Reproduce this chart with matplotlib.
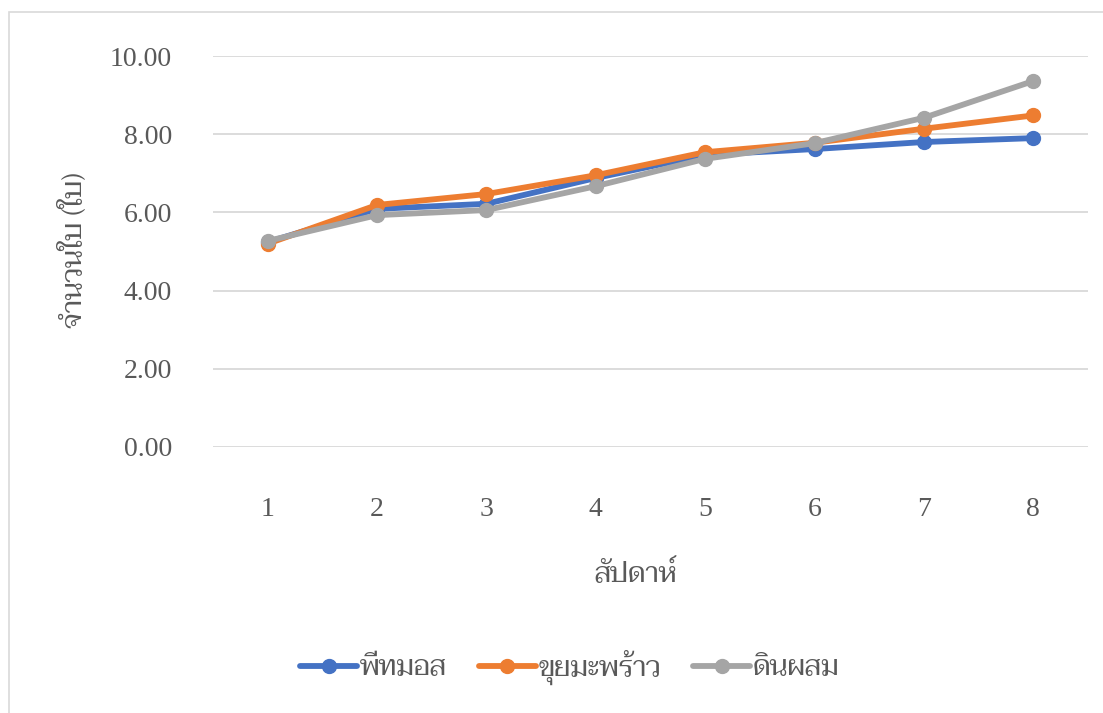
import matplotlib
matplotlib.use('Agg')
import matplotlib.pyplot as plt
from matplotlib import font_manager
from matplotlib.patches import Rectangle

weeks = [1, 2, 3, 4, 5, 6, 7, 8]
peat_moss = [5.24, 6.09, 6.22, 6.88, 7.47, 7.62, 7.80, 7.90]
coco_peat = [5.20, 6.19, 6.47, 6.95, 7.54, 7.78, 8.14, 8.48]
soil_mix = [5.27, 5.93, 6.06, 6.67, 7.37, 7.77, 8.42, 9.36]
series_names = ['พีทมอส', 'ขุยมะพร้าว', 'ดินผสม']
y_ticks = [0, 2, 4, 6, 8, 10]
x_title = 'สัปดาห์'
y_title = 'จำนวนใบ (ใบ)'


# pick the first installed Thai font from a list of looks-alike faces
def pick_font(names):
    installed = {f.name for f in font_manager.fontManager.ttflist}
    for n in names:
        if n in installed:
            return n
    return None


thai = pick_font(['Taviraj', 'Maitree', 'Trirong', 'Sarabun', 'Thasadith'])
serif = ['Liberation Serif', 'DejaVu Serif']
families = ([thai] if thai else []) + serif
num_families = serif + ([thai] if thai else [])

text_color = '#595959'
colors = ['#4472C4', '#ED7D31', '#A5A5A5']
thai_size = 20

fig = plt.figure(figsize=(11.03, 7.13), dpi=100)
fig.patches.append(Rectangle((9 / 1103, -0.01), 1.1, 1 - 12 / 713 + 0.01, transform=fig.transFigure,
                             fill=False, edgecolor='#D9D9D9', linewidth=1.2))
ax = fig.add_axes([213 / 1103, 1 - 447 / 713, 875 / 1103, 391 / 713])

for vals, name, c in zip([peat_moss, coco_peat, soil_mix], series_names, colors):
    ax.plot(weeks, vals, color=c, linewidth=4.2, marker='o', markersize=10, label=name,
            solid_capstyle='round', solid_joinstyle='round')

ax.set_xlim(0.5, 8.5)
ax.set_ylim(0, 10)
ax.set_yticks(y_ticks)
ax.set_yticklabels(['{:.2f}'.format(v) for v in y_ticks])
ax.set_xticks(weeks)
ax.grid(axis='y', color='#D9D9D9', linewidth=1.3)
ax.set_axisbelow(True)
for s in ax.spines.values():
    s.set_visible(False)
ax.tick_params(length=0, labelsize=20, labelcolor=text_color)
ax.tick_params(axis='x', pad=36)
ax.tick_params(axis='y', pad=29.5)
for lab in ax.get_xticklabels() + ax.get_yticklabels():
    lab.set_family(num_families)

fig.text(636 / 1103, 1 - 574 / 713, x_title, ha='center', va='center', fontsize=thai_size,
         color=text_color, family=families)
fig.text(73 / 1103, 1 - 250 / 713, y_title, ha='center', va='center', rotation=90, fontsize=thai_size,
         color=text_color, family=families)

leg = fig.legend(loc='center', bbox_to_anchor=(570 / 1103, 1 - 667 / 713), ncol=3, frameon=False,
                 prop={'family': families, 'size': thai_size}, handlelength=41 / thai_size,
                 columnspacing=23 / thai_size, handletextpad=2 / thai_size, labelcolor=text_color)

fig.savefig('out.png', dpi=100)
